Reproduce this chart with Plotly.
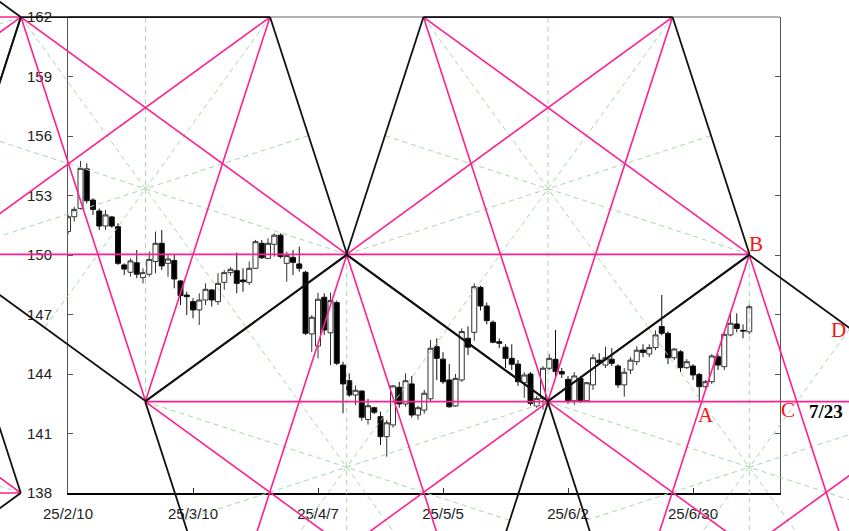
import numpy as np
import pandas as pd
import plotly.graph_objects as go

# daily candles, one per weekday starting 2025-02-10
OPEN = [151.18, 151.93, 152.35, 154.34, 152.77, 152.22, 151.46, 151.92, 151.43, 149.50,
        149.13, 149.61, 148.86, 149.03, 149.67, 150.59, 149.58, 149.72, 148.69, 147.98,
        147.65, 147.23, 147.73, 148.24, 147.65, 148.62, 149.11, 149.21, 148.74, 148.62,
        149.33, 150.59, 149.83, 150.54, 151.00, 149.58, 149.88, 149.55, 149.13, 146.02,
        145.41, 147.87, 146.08, 147.60, 144.45, 143.66, 142.94, 143.14, 141.71, 142.30,
        141.85, 140.84, 141.43, 143.33, 142.49, 143.50, 141.93, 142.18, 142.75, 145.38,
        144.75, 143.70, 142.39, 143.70, 145.80, 146.10, 148.37, 147.43, 146.61, 145.63,
        145.35, 144.79, 144.50, 143.56, 144.00, 142.39, 142.77, 144.29, 144.74, 144.12,
        143.73, 142.65, 143.78, 142.65, 143.45, 144.70, 144.45, 144.75, 144.40, 143.45,
        144.20, 144.62, 145.21, 145.01, 145.33, 146.39, 146.05, 144.82, 145.12, 144.32,
        144.40, 143.98, 143.36, 143.61, 144.87, 144.37, 145.97, 146.52, 146.20, 146.13]
HIGH = [152.05, 152.43, 154.74, 154.62, 152.86, 152.35, 152.27, 151.97, 151.60, 149.58,
        149.83, 150.25, 149.33, 150.17, 151.18, 151.26, 150.03, 150.00, 148.74, 148.15,
        147.82, 148.07, 148.57, 148.27, 149.08, 149.24, 149.40, 150.12, 149.33, 149.67,
        150.76, 150.76, 150.85, 151.09, 151.09, 150.17, 150.25, 150.42, 149.20, 146.97,
        148.10, 148.07, 148.10, 147.70, 144.62, 144.03, 143.42, 143.18, 142.74, 142.35,
        142.10, 141.68, 143.45, 143.60, 144.03, 143.90, 142.40, 143.20, 145.71, 145.80,
        145.10, 144.50, 144.00, 146.30, 146.40, 148.57, 148.45, 147.60, 146.70, 145.80,
        145.50, 145.50, 144.70, 144.10, 144.10, 142.90, 144.40, 145.00, 146.22, 144.30,
        143.90, 144.10, 143.90, 143.60, 145.00, 145.05, 145.38, 145.30, 144.50, 144.30,
        144.85, 145.40, 145.50, 145.50, 146.20, 147.98, 146.15, 145.30, 145.20, 144.75,
        144.50, 144.05, 143.70, 145.00, 145.00, 146.05, 147.06, 147.06, 146.50, 147.50]
LOW = [151.05, 151.68, 152.30, 152.60, 152.02, 151.26, 151.26, 151.38, 149.50, 148.99,
       148.91, 148.83, 148.57, 148.91, 149.08, 149.24, 148.90, 148.32, 147.48, 146.97,
       146.81, 146.47, 147.48, 147.40, 147.48, 148.24, 148.95, 148.07, 148.15, 148.49,
       149.30, 149.80, 149.80, 149.92, 149.83, 148.65, 148.99, 149.16, 145.97, 145.12,
       144.79, 145.97, 144.45, 144.45, 142.02, 142.85, 142.43, 141.65, 141.45, 141.98,
       140.42, 139.83, 141.30, 142.30, 142.35, 141.80, 141.70, 142.00, 142.60, 143.70,
       143.50, 142.30, 142.35, 143.60, 144.95, 145.68, 147.20, 146.50, 145.55, 145.30,
       144.30, 144.20, 143.40, 142.80, 142.40, 142.30, 142.20, 144.20, 143.88, 143.80,
       142.50, 142.45, 142.55, 142.60, 143.20, 144.50, 144.30, 144.40, 143.30, 142.86,
       144.00, 144.45, 144.85, 144.85, 145.20, 145.95, 144.50, 144.70, 144.10, 144.25,
       143.70, 142.60, 143.30, 143.50, 144.20, 144.20, 145.90, 146.10, 145.80, 146.00]
CLOSE = [151.93, 152.30, 154.37, 152.74, 152.30, 151.46, 152.02, 151.46, 149.58, 149.29,
         149.70, 149.03, 149.11, 149.78, 150.59, 149.45, 149.80, 148.79, 147.95, 147.90,
         147.23, 147.73, 148.27, 147.73, 148.57, 149.11, 149.28, 148.57, 148.65, 149.33,
         150.67, 149.86, 150.59, 151.00, 149.92, 149.97, 149.63, 149.33, 146.05, 146.86,
         147.77, 146.22, 147.70, 144.54, 143.50, 142.94, 143.18, 141.82, 142.40, 142.07,
         140.84, 141.54, 143.40, 142.49, 143.66, 141.93, 142.30, 143.03, 145.30, 144.79,
         143.61, 142.35, 143.78, 146.14, 145.35, 148.40, 147.43, 146.69, 145.60, 145.55,
         144.79, 144.49, 143.61, 143.95, 142.52, 142.77, 144.29, 144.79, 144.12, 144.00,
         142.65, 143.90, 142.65, 143.56, 144.82, 144.57, 144.82, 144.54, 143.45, 144.09,
         144.70, 145.20, 145.09, 145.33, 145.97, 146.05, 144.82, 145.26, 144.32, 144.62,
         143.95, 143.36, 143.61, 144.91, 144.45, 146.00, 146.56, 146.30, 146.17, 147.39]
DATES = pd.bdate_range("2025-02-10", periods=len(OPEN))
TICK_DATES = ["2025-02-10", "2025-03-10", "2025-04-07", "2025-05-05", "2025-06-02", "2025-06-30"]
Y_TICKS = list(range(138, 163, 3))

# pentagon lattice, in (trading-day index, price)
PENT_CX = [-39.8, -39.8, 12.4, 44.6, 76.8, 109.0]
PENT_CY = [158.69, 141.31, 153.34, 139.30, 153.34, 139.30]
PENT_DOWN = [False, True, True, False, True, False]
R_DAYS = 33.9
R_PRICE = 10.70

LABELS = ["A", "B", "C", "D"]
LABEL_X = [102.1, 110.0, 115.2, 123.2]
LABEL_Y = [141.95, 150.55, 142.18, 146.2]
DATE_NOTE = "7/23"
DATE_NOTE_X = 121.2
DATE_NOTE_Y = 142.13

PINK = "#ff1f8f"
GREEN = "#a6d8a6"

W, H = 849, 531
PL, PR, PT, PB = 68, 780, 17, 493
DAY_PX = 6.25

idx = np.arange(len(OPEN))
x0, x1 = 0.0, (PR - PL) / DAY_PX
y0, y1 = 138.0, 162.0
kx = (x1 - x0) / (PR - PL)
ky = (y1 - y0) / (PB - PT)


def pentagon(cx, cy, down):
    s = -1 if down else 1
    return [(cx + R_DAYS * np.sin(np.radians(72 * k)), cy + s * R_PRICE * np.cos(np.radians(72 * k)))
            for k in range(5)]


edges_x, edges_y, diag_x, diag_y, star_x, star_y = [], [], [], [], [], []
for cx, cy, down in zip(PENT_CX, PENT_CY, PENT_DOWN):
    v = pentagon(cx, cy, down)
    for k in range(5):
        a, b, c = v[k], v[(k + 1) % 5], v[(k + 2) % 5]
        edges_x += [a[0], b[0], None]
        edges_y += [a[1], b[1], None]
        diag_x += [a[0], c[0], None]
        diag_y += [a[1], c[1], None]
        d = v[(k + 3) % 5]
        star_x += [a[0], (c[0] + d[0]) / 2, None]
        star_y += [a[1], (c[1] + d[1]) / 2, None]

fig = go.Figure()
fig.add_trace(go.Candlestick(
    x=idx, open=OPEN, high=HIGH, low=LOW, close=CLOSE,
    increasing=dict(line=dict(color="#333333", width=1), fillcolor="white"),
    decreasing=dict(line=dict(color="#111111", width=1), fillcolor="black"),
    showlegend=False, hoverinfo="skip",
))
fig.add_trace(go.Scatter(x=star_x, y=star_y, mode="lines", xaxis="x2", yaxis="y2",
                         line=dict(color=GREEN, width=1, dash="5px,4px"), hoverinfo="skip", showlegend=False))
fig.add_trace(go.Scatter(x=diag_x, y=diag_y, mode="lines", xaxis="x2", yaxis="y2",
                         line=dict(color=PINK, width=1.6), hoverinfo="skip", showlegend=False))
fig.add_trace(go.Scatter(x=edges_x, y=edges_y, mode="lines", xaxis="x2", yaxis="y2",
                         line=dict(color="#111111", width=1.8), hoverinfo="skip", showlegend=False))

for t, lx, ly in zip(LABELS, LABEL_X, LABEL_Y):
    fig.add_annotation(x=lx, y=ly, xref="x2", yref="y2", text=t, showarrow=False,
                       font=dict(family="Liberation Serif", size=21, color="#ff1010"))
fig.add_annotation(x=DATE_NOTE_X, y=DATE_NOTE_Y, xref="x2", yref="y2", text=f"<b>{DATE_NOTE}</b>",
                   showarrow=False, font=dict(family="Liberation Serif", size=19, color="black"))

tick_idx = [DATES.get_loc(pd.Timestamp(d)) for d in TICK_DATES]
tick_txt = [f"{pd.Timestamp(d).year % 100}/{pd.Timestamp(d).month}/{pd.Timestamp(d).day}" for d in TICK_DATES]

fig.add_shape(type="line", xref="paper", yref="paper", x0=PL / W, x1=PR / W, y0=(H - PT) / H, y1=(H - PT) / H,
              line=dict(color="#666666", width=1), layer="below")

fig.update_layout(
    template="none",
    width=W, height=H,
    margin=dict(l=0, r=0, t=0, b=0),
    paper_bgcolor="white", plot_bgcolor="rgba(0,0,0,0)",
    showlegend=False,
    boxgap=0.2, boxgroupgap=0,
    xaxis=dict(domain=[PL / W, PR / W], range=[x0, x1], rangeslider=dict(visible=False),
               showgrid=False, zeroline=False, showline=True, linecolor="black", linewidth=2,
               ticks="inside", ticklen=5, tickcolor="#333", tickvals=tick_idx, ticktext=tick_txt,
               tickfont=dict(family="Liberation Sans", size=15, color="#222"), ticklabelstandoff=6),
    yaxis=dict(domain=[(H - PB) / H, (H - PT) / H], range=[y0, y1], showgrid=False, zeroline=False,
               showline=True, linecolor="#555", linewidth=1, mirror="ticks",
               ticks="inside", ticklen=5, tickcolor="#555", tickvals=Y_TICKS,
               tickfont=dict(family="Liberation Sans", size=15, color="#222"), ticklabelstandoff=12),
    xaxis2=dict(domain=[0, 1], anchor="y2", visible=False,
                range=[x0 - PL * kx, x1 + (W - PR) * kx]),
    yaxis2=dict(domain=[0, 1], anchor="x2", visible=False,
                range=[y0 - (H - PB) * ky, y1 + PT * ky]),
)

# the page's default body margin would shift the figure by 8px
fig.write_html("out.html", config={"displayModeBar": False},
               post_script="document.body.style.margin='0px';document.body.style.overflow='hidden';")
